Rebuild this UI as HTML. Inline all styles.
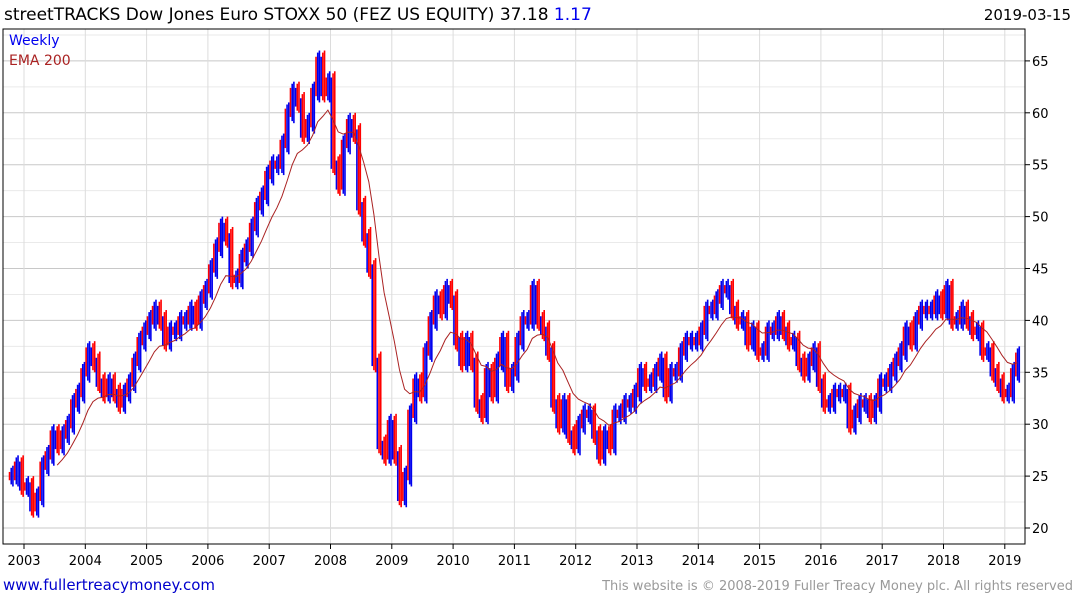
<!DOCTYPE html>
<html><head><meta charset="utf-8"><style>
body{margin:0;background:#fff;width:1075px;height:600px;overflow:hidden;font-family:"DejaVu Sans","Liberation Sans",sans-serif}
</style></head><body>
<svg id="c" width="1075" height="600" xmlns="http://www.w3.org/2000/svg" font-family="DejaVu Sans, Liberation Sans, sans-serif">
<text x="4" y="20" font-size="17" fill="#000">streetTRACKS Dow Jones Euro STOXX 50 (FEZ US EQUITY) 37.18 <tspan fill="#0000ee">1.17</tspan></text>
<text x="1071" y="20" font-size="15" text-anchor="end" fill="#000">2019-03-15</text>
<g id="grid"></g><g id="bars"></g><g id="ema"></g>
<rect x="3" y="29" width="1022" height="515" fill="none" stroke="#000" stroke-width="1"/>
<g id="axes"></g>
<text x="9" y="45" font-size="14" fill="#0000ee">Weekly</text>
<text x="9" y="65" font-size="14" fill="#aa2222">EMA 200</text>
<text x="3" y="590" font-size="15" fill="#0000cc">www.fullertreacymoney.com</text>
<text x="1073" y="590" font-size="13" text-anchor="end" fill="#999">This website is © 2008-2019 Fuller Treacy Money plc. All rights reserved</text>
</svg>
<script>
const startYear = 2002, startMonth = 9;
const closes = [25,26,24,
24,22,23,26,27,29,28,29,30,32,33,35,
37,36,34,33,34,33,32,33,34,36,38,39,
40,41,40,38,39,39,40,40,41,40,42,43,
45,47,49,48,44,44,46,47,49,51,52,54,
55,55,57,60,62,61,58,59,62,65,62,63,
55,53,57,59,58,51,48,45,36,28,27,30,
27,23,25,31,34,33,37,40,42,41,43,42,
38,36,38,36,32,31,35,33,36,38,34,35,
38,40,40,43,40,39,37,32,30,32,29,28,
30,31,31,29,27,29,28,31,31,32,32,33,
35,34,34,35,36,33,35,35,37,38,38,38,
39,41,41,42,43,43,41,40,40,38,39,37,
37,39,39,40,39,38,38,36,35,36,37,34,
32,32,33,33,33,30,31,32,32,31,32,34,
34,35,36,37,39,38,40,41,41,41,42,41,
43,40,40,41,40,39,39,37,37,35,34,33,
33,35,36.5];
const yTicks = [20,25,30,35,40,45,50,55,60,65];
const xTicks = [2003,2004,2005,2006,2007,2008,2009,2010,2011,2012,2013,2014,2015,2016,2017,2018,2019];
const NS="http://www.w3.org/2000/svg";
const xS = t => 24 + (t-2003)*61.3;
const yS = v => 528 - (v-20)*10.38;
function mk(tag, attrs, parent){const e=document.createElementNS(NS,tag);for(const k in attrs)e.setAttribute(k,attrs[k]);document.getElementById(parent).appendChild(e);return e;}
yTicks.forEach(v=>{
  let l=mk('line',{x1:3,x2:1025,y1:yS(v),y2:yS(v),stroke:'#c8c8c8','stroke-width':1},'grid');
  
  
  let m=mk('line',{x1:3,x2:1025,y1:yS(v+2.5),y2:yS(v+2.5),stroke:'#eaeaea','stroke-width':1},'grid');
  
  
  let tk=mk('line',{x1:1025,x2:1030,y1:yS(v),y2:yS(v),stroke:'#000'},'axes');
  
  
  let t=mk('text',{x:1032,y:yS(v)+5,'font-size':13,fill:'#000'},'axes');
  t.textContent=v;
  
  
});
xTicks.forEach(y=>{
  let l=mk('line',{x1:xS(y),x2:xS(y),y1:29,y2:544,stroke:'#dcdcdc'},'grid');
  
  
  let tk=mk('line',{x1:xS(y),x2:xS(y),y1:544,y2:549,stroke:'#000'},'axes');
  
  
  let t=mk('text',{x:xS(y),y:565,'font-size':13,'text-anchor':'middle',fill:'#000'},'axes');
  t.textContent=y;
  
  
});
let ema=null, pts=[];
closes.forEach((c,i)=>{
  const mo=startMonth+i, t=startYear+Math.floor(mo/12)+((mo%12)+0.5)/12;
  const prev=i?closes[i-1]:c;
  const hi=Math.max(prev,c)+0.8, lo=Math.min(prev,c)-0.8;
  const x=xS(t);
  const up=c>=prev;
  const cols = up?['#ff0000','#0000ee','#0000ee']:['#0000ee','#ff0000','#ff0000'];
  for(let k=0;k<3;k++){
    const sh = k===0?0.4:(k===2?-0.2:0);
    const r=mk('rect',{x:x-2.5+k*1.7,y:yS(hi-sh),width:1.6,height:yS(lo+sh)-yS(hi-sh),fill:cols[k]},'bars');
    
    
  }
  ema = ema===null? c : ema + (c-ema)*2/11;
  if(i>=9) pts.push(x.toFixed(1)+','+yS(ema).toFixed(1));
});
const p=mk('polyline',{points:pts.join(' '),fill:'none',stroke:'#aa2222','stroke-width':1},'ema');


</script>
</body></html>
